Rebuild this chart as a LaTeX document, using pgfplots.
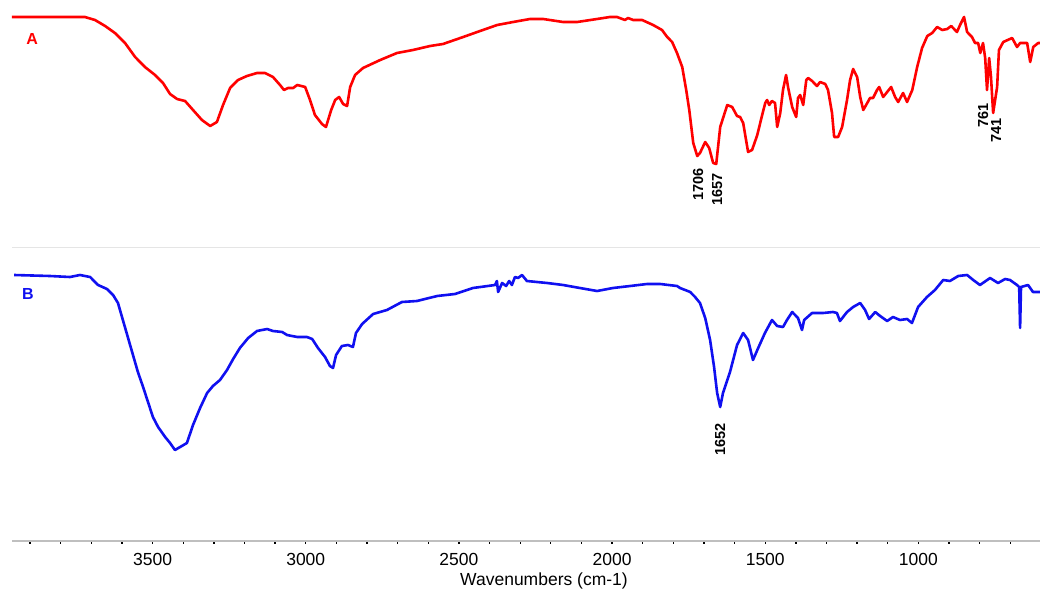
\documentclass[border=0pt]{standalone}
\usepackage{pgfplots}
\pgfplotsset{compat=1.18}
\usepackage{fontspec}
\setmainfont{Liberation Sans}
\definecolor{specred}{RGB}{255,0,0}
\definecolor{specblue}{RGB}{16,16,240}
\begin{document}
\begin{tikzpicture}
\path[use as bounding box] (-12pt,-49pt) rectangle (1028pt,541pt);
\begin{axis}[
  at={(0pt,0pt)}, anchor=south west,
  scale only axis, width=1028pt, height=541pt,
  x dir=reverse, xmin=603, xmax=3959, ymin=0, ymax=541,
  axis y line=none, axis x line*=bottom,
  x axis line style={-, draw=black!25, line width=1.6pt},
  xtick={1000,1500,2000,2500,3000,3500},
  minor xtick={700,800,900,1100,1200,1300,1400,1600,1700,1800,1900,2100,2200,2300,2400,2600,2700,2800,2900,3100,3200,3300,3400,3600,3700,3800,3900},
  tick align=outside,
  major tick length=3pt, minor tick length=2.5pt,
  every tick/.style={black, line width=1.3pt},
  /pgf/number format/assume math mode=true,
  /pgf/number format/1000 sep={},
  xticklabel style={font=\fontsize{17.5}{20}\selectfont, anchor=base, yshift=-21pt},
  clip=false,
]
% separator
\addplot[black!10, line width=1pt] coordinates {(3959,294) (603,294)};
% Spectrum A
\addplot[specred, line width=2.6pt, line join=round] coordinates {
(3959,524)(3721,524)(3688,521)(3655,515)(3623,508)(3590,498)(3557,484)(3525,474)
(3492,466)(3466,458)(3443,447)(3420,442)(3394,440)(3368,431)(3339,421)(3312,415)
(3290,419)(3270,436)(3247,453)(3221,461)(3192,465)(3159,468)(3133,468)(3107,464)
(3084,456)(3071,451)(3058,453)(3041,453)(3028,456)(3002,454)(2986,441)(2970,426)
(2947,417)(2934,414)(2917,431)(2904,441)(2891,444)(2878,437)(2865,435)(2855,454)
(2839,466)(2813,473)(2757,481)(2702,488)(2650,491)(2594,495)(2552,497)(2486,504)
(2431,510)(2375,516)(2323,519)(2268,522)(2225,522)(2160,519)(2114,519)(2049,522)
(2007,524)(1984,524)(1958,521)(1948,523)(1931,521)(1902,521)(1866,516)(1837,511)
(1820,504)(1804,499)(1788,488)(1771,474)(1758,451)(1748,431)(1735,398)(1722,385)
(1713,388)(1696,399)(1683,393)(1670,378)(1660,377)(1647,414)(1624,436)(1608,434)
(1592,425)(1582,424)(1572,418)(1556,389)(1543,391)(1526,406)(1510,426)(1500,438)
(1494,441)(1487,436)(1478,440)(1468,438)(1461,414)(1451,428)(1442,451)(1432,466)
(1425,453)(1412,434)(1399,424)(1393,443)(1386,446)(1376,436)(1366,461)(1360,463)
(1347,460)(1331,455)(1321,459)(1304,457)(1295,451)(1282,428)(1275,404)(1262,404)
(1249,414)(1233,441)(1223,461)(1213,472)(1200,464)(1190,444)(1180,431)(1167,438)
(1158,443)(1148,443)(1135,451)(1128,454)(1115,444)(1102,449)(1089,454)(1076,444)
(1066,439)(1050,448)(1037,439)(1020,451)(1004,474)(988,493)(971,505)(955,508)
(939,514)(922,511)(906,512)(893,515)(874,509)(864,516)(851,524)(841,509)
(825,504)(815,498)(805,498)(798,488)(789,498)(782,483)(776,451)(769,483)
(763,464)(756,428)(743,454)(737,491)(723,499)(694,503)(678,494)(668,498)
(645,498)(635,479)(625,494)(609,498)(603,498)
};
% Spectrum B
\addplot[specblue, line width=2.6pt, line join=round] coordinates {
(3952,266)(3835,265)(3770,264)(3737,266)(3704,264)(3678,256)(3649,252)(3629,246)
(3613,238)(3597,221)(3580,203)(3564,186)(3548,169)(3531,154)(3515,139)(3499,124)
(3482,114)(3459,104)(3443,98)(3427,91)(3410,94)(3388,98)(3368,116)(3345,133)
(3322,148)(3303,155)(3280,161)(3257,171)(3237,182)(3215,193)(3188,203)(3159,210)
(3126,212)(3107,210)(3077,209)(3061,206)(3028,204)(2996,204)(2979,202)(2960,193)
(2937,184)(2921,175)(2911,173)(2901,186)(2882,195)(2862,196)(2846,194)(2836,208)
(2816,217)(2780,227)(2735,231)(2686,239)(2637,240)(2571,245)(2513,247)(2454,253)
(2382,256)(2376,260)(2372,249)(2359,258)(2346,255)(2336,260)(2327,256)(2317,264)
(2307,263)(2294,266)(2278,260)(2212,258)(2160,256)(2105,253)(2049,250)(1997,253)
(1941,255)(1886,257)(1843,257)(1788,255)(1778,253)(1745,249)(1729,244)(1713,238)
(1696,223)(1680,201)(1667,174)(1657,148)(1647,134)(1638,148)(1615,169)(1592,196)
(1572,208)(1556,201)(1540,181)(1523,193)(1501,208)(1478,221)(1461,215)(1442,214)
(1429,221)(1412,229)(1393,223)(1380,211)(1373,221)(1347,228)(1311,228)(1279,229)
(1266,228)(1256,220)(1233,229)(1213,234)(1190,238)(1174,231)(1161,222)(1141,229)
(1125,225)(1102,220)(1083,224)(1060,221)(1037,222)(1021,218)(1001,234)(972,244)
(946,251)(919,261)(897,260)(870,265)(841,266)(821,261)(799,256)(766,263)
(740,258)(717,262)(701,261)(678,256)(671,254)(668,213)(665,254)(642,256)
(626,249)(603,249)
};
% labels
\node[text=specred, font=\bfseries\fontsize{16}{18}\selectfont] at (axis cs:3893,502) {A};
\node[text=specblue, font=\bfseries\fontsize{16}{18}\selectfont] at (axis cs:3907,247) {B};
\begin{scope}[every node/.style={rotate=90, anchor=east, inner sep=0pt, font=\bfseries\fontsize{14.5}{16}\selectfont}]
\node at (axis cs:1719,373) {1706};
\node at (axis cs:1657,368) {1657};
\node at (axis cs:789,438) {761};
\node at (axis cs:746,423) {741};
\node at (axis cs:1647,118) {1652};
\end{scope}
\node[anchor=base, font=\fontsize{17.5}{20}\selectfont] at (rel axis cs:0.5175,0) [yshift=-44pt] {Wavenumbers (cm-1)};
\end{axis}
\end{tikzpicture}
\end{document}
